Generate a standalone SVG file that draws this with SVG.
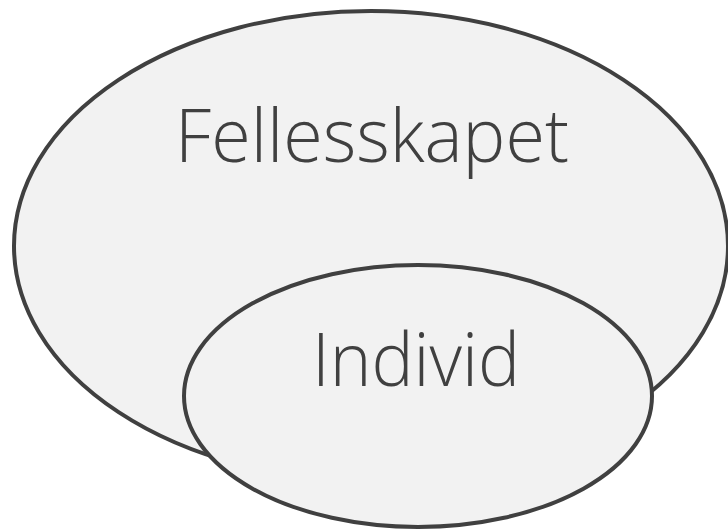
<svg xmlns="http://www.w3.org/2000/svg" width="728" height="532" viewBox="0 0 728 532">
<style>
.shape{fill:#f2f2f2;stroke:#404040;stroke-width:4}
.lbl{font-family:"Open Sans","Liberation Sans",sans-serif;font-weight:300;font-size:74px;fill:#404040;text-anchor:middle}
</style>
<rect width="728" height="532" fill="#ffffff"/>
<g id="fellesskapet">
<ellipse class="shape" cx="371" cy="246" rx="357" ry="235"/>
<text class="lbl" x="372" y="162" textLength="394" lengthAdjust="spacingAndGlyphs">Fellesskapet</text>
</g>
<g id="individ">
<ellipse class="shape" cx="418" cy="396" rx="234" ry="131"/>
<text class="lbl" x="416" y="386" textLength="208" lengthAdjust="spacingAndGlyphs">Individ</text>
</g>
<g id="connectors"></g>
</svg>
